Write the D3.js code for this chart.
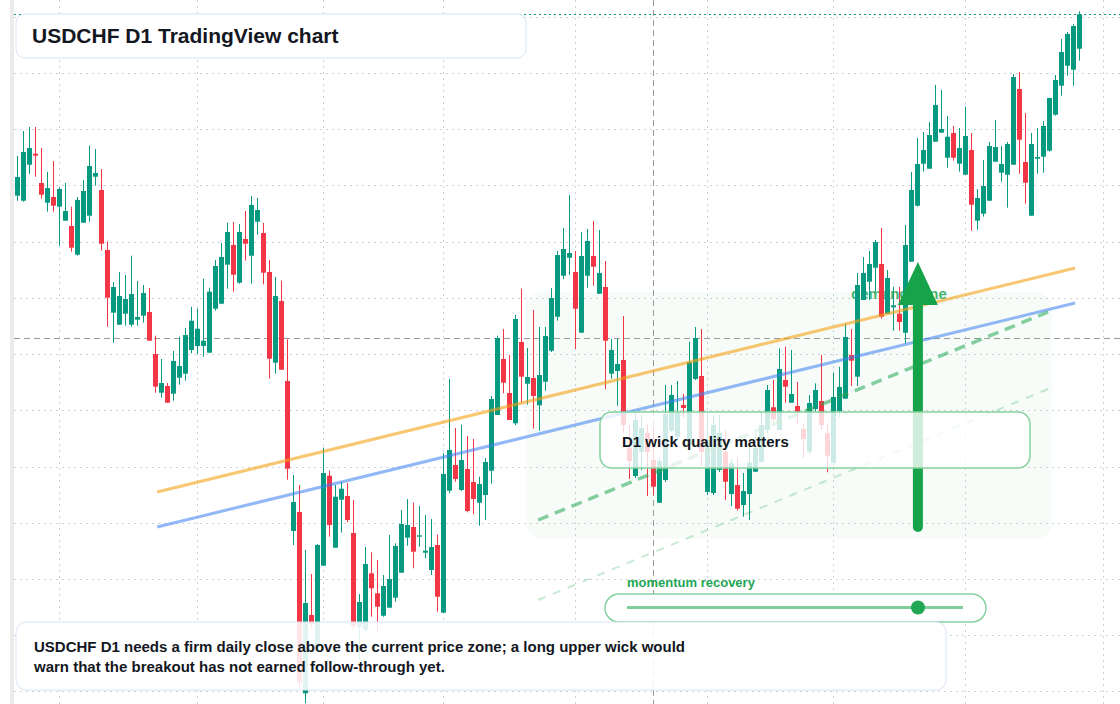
<!DOCTYPE html>
<html lang="en">
<head>
<meta charset="UTF-8">
<title>USDCHF D1 TradingView chart</title>
<script src="https://cdnjs.cloudflare.com/ajax/libs/d3/7.8.5/d3.min.js"></script>
<style>
  body { margin: 0; background: #fff; font-family: "Liberation Sans", Arial, sans-serif; }
  svg { display: block; }
</style>
</head>
<body>
<div id="chart"></div>
<script>
// daily USDCHF candles, oldest first
const openP = [
  0.93043, 0.92993, 0.93353, 0.93463, 0.93170, 0.92973, 0.93030, 0.92933, 0.92793, 0.92740,
  0.92453, 0.92773, 0.92843, 0.93233, 0.93100, 0.92500, 0.91873, 0.91753, 0.91863, 0.91753,
  0.91803, 0.91843, 0.91880, 0.91460, 0.91073, 0.91140, 0.91063, 0.91223, 0.91263, 0.91500,
  0.91540, 0.91540, 0.91473, 0.91913, 0.91963, 0.92353, 0.92550, 0.92173, 0.92610, 0.92443,
  0.92783, 0.92670, 0.92280, 0.91373, 0.91990, 0.91190, 0.89690, 0.89880, 0.88067, 0.88850,
  0.88530, 0.89343, 0.90243, 0.89523, 0.90003, 0.90040, 0.89670, 0.88730, 0.88700, 0.89267,
  0.89067, 0.88843, 0.88923, 0.89023, 0.89273, 0.89623, 0.89730, 0.89633, 0.89473, 0.89300,
  0.89550, 0.88873, 0.90093, 0.90350, 0.90100, 0.90310, 0.90180, 0.89973, 0.90050, 0.90293,
  0.90850, 0.91410, 0.91070, 0.90767, 0.91580, 0.91163, 0.91220, 0.90947, 0.91183, 0.91493,
  0.91833, 0.92243, 0.92423, 0.92280, 0.91673, 0.92243, 0.92440, 0.92063, 0.92130, 0.91263,
  0.91290, 0.91400, 0.90520, 0.90240, 0.90483, 0.90670, 0.90400, 0.89973, 0.90200, 0.90693,
  0.90633, 0.90950, 0.90550, 0.91210, 0.91240, 0.90080, 0.90070, 0.90300, 0.90483, 0.90060,
  0.90150, 0.89950, 0.90060, 0.90283, 0.90383, 0.90700, 0.90927, 0.90700, 0.91200, 0.90973,
  0.90940, 0.90710, 0.90483, 0.90910, 0.90990, 0.90667, 0.90373, 0.90890, 0.91013, 0.91450,
  0.91233, 0.92000, 0.92183, 0.92323, 0.92360, 0.91863, 0.91927, 0.91863, 0.91673, 0.92383,
  0.92943, 0.93363, 0.93313, 0.93583, 0.93673, 0.93423, 0.93670, 0.93363, 0.93253, 0.93500,
  0.92793, 0.92863, 0.92993, 0.93383, 0.93273, 0.93253, 0.93353, 0.94110, 0.93380, 0.92843,
  0.93413, 0.93433, 0.93493, 0.93853, 0.94143, 0.94343, 0.94303, 0.94513
];
const highP = [
  0.93440, 0.93690, 0.93730, 0.93730, 0.93520, 0.93280, 0.93390, 0.93127, 0.93170, 0.92933,
  0.93030, 0.93200, 0.93543, 0.93510, 0.93310, 0.92587, 0.92180, 0.92280, 0.92250, 0.92443,
  0.92190, 0.92150, 0.92120, 0.91643, 0.91410, 0.91170, 0.91490, 0.91633, 0.91720, 0.91933,
  0.91913, 0.92213, 0.92123, 0.92400, 0.92570, 0.92773, 0.92780, 0.92760, 0.92890, 0.93040,
  0.93020, 0.92770, 0.92400, 0.92230, 0.92193, 0.91607, 0.90250, 0.90150, 0.89500, 0.89260,
  0.89560, 0.90523, 0.90293, 0.90150, 0.90180, 0.90170, 0.90000, 0.89060, 0.89530, 0.89477,
  0.89400, 0.89250, 0.89650, 0.89567, 0.89900, 0.90010, 0.89973, 0.89940, 0.89850, 0.89810,
  0.89653, 0.90467, 0.91210, 0.90720, 0.90753, 0.90640, 0.90610, 0.90233, 0.90420, 0.91040,
  0.91643, 0.91710, 0.91450, 0.91850, 0.92113, 0.91520, 0.91900, 0.91730, 0.91730, 0.92120,
  0.92490, 0.92720, 0.93050, 0.92490, 0.92680, 0.92710, 0.92790, 0.92700, 0.92390, 0.91610,
  0.91610, 0.91840, 0.90750, 0.90880, 0.90850, 0.90750, 0.90730, 0.90420, 0.91150, 0.91150,
  0.91190, 0.91060, 0.91583, 0.91730, 0.91710, 0.90870, 0.90850, 0.90850, 0.90700, 0.90410,
  0.90430, 0.90270, 0.90533, 0.90670, 0.90883, 0.91150, 0.91200, 0.91517, 0.91533, 0.91500,
  0.91180, 0.90760, 0.91050, 0.91167, 0.91450, 0.90760, 0.91273, 0.91333, 0.91760, 0.91710,
  0.92270, 0.92430, 0.92490, 0.92600, 0.92720, 0.92300, 0.92133, 0.92133, 0.92750, 0.93280,
  0.93620, 0.93680, 0.93780, 0.94150, 0.94100, 0.93840, 0.93740, 0.93720, 0.93933, 0.93670,
  0.93110, 0.93400, 0.93580, 0.93800, 0.93540, 0.93580, 0.94260, 0.94280, 0.93870, 0.93670,
  0.93720, 0.93790, 0.94023, 0.94250, 0.94610, 0.94680, 0.94760, 0.94887
];
const lowP = [
  0.92993, 0.92983, 0.93260, 0.93233, 0.93013, 0.92883, 0.92883, 0.92543, 0.92793, 0.92483,
  0.92443, 0.92773, 0.92783, 0.93143, 0.92493, 0.91733, 0.91573, 0.91753, 0.91743, 0.91733,
  0.91743, 0.91773, 0.91593, 0.91073, 0.91023, 0.90973, 0.90993, 0.91153, 0.91193, 0.91467,
  0.91460, 0.91433, 0.91473, 0.91893, 0.91960, 0.92113, 0.92083, 0.92163, 0.92393, 0.92163,
  0.92653, 0.92157, 0.91213, 0.91263, 0.91300, 0.90203, 0.89550, 0.88117, 0.87967, 0.88720,
  0.88500, 0.89343, 0.89633, 0.89523, 0.89673, 0.89777, 0.88700, 0.88400, 0.88670, 0.88833,
  0.88667, 0.88833, 0.88923, 0.88983, 0.89273, 0.89543, 0.89317, 0.89533, 0.89417, 0.89250,
  0.88883, 0.88873, 0.90067, 0.90183, 0.90090, 0.89877, 0.89857, 0.89743, 0.89800, 0.90163,
  0.90850, 0.91067, 0.90800, 0.90750, 0.90973, 0.90953, 0.90713, 0.90693, 0.91093, 0.91480,
  0.91793, 0.92210, 0.92250, 0.91510, 0.91673, 0.92123, 0.92143, 0.92060, 0.91110, 0.91213,
  0.90943, 0.90670, 0.90210, 0.90220, 0.90300, 0.90040, 0.90050, 0.89970, 0.90180, 0.90680,
  0.90600, 0.90820, 0.90500, 0.91200, 0.90340, 0.90050, 0.90050, 0.90280, 0.90000, 0.89940,
  0.89893, 0.89833, 0.89800, 0.90280, 0.90370, 0.90667, 0.90783, 0.90700, 0.90973, 0.90973,
  0.90760, 0.90417, 0.90450, 0.90883, 0.90700, 0.90277, 0.90340, 0.90827, 0.91013, 0.91140,
  0.91140, 0.92000, 0.92000, 0.92083, 0.91813, 0.91863, 0.91693, 0.91693, 0.91567, 0.92383,
  0.92933, 0.93283, 0.93313, 0.93583, 0.93673, 0.93323, 0.93393, 0.93283, 0.93253, 0.92693,
  0.92703, 0.92833, 0.92993, 0.93383, 0.93183, 0.92923, 0.93353, 0.93263, 0.92963, 0.92843,
  0.93263, 0.93273, 0.93483, 0.93843, 0.94043, 0.94243, 0.94143, 0.94393
];
const closeP = [
  0.93230, 0.93480, 0.93520, 0.93443, 0.93053, 0.93120, 0.92943, 0.93110, 0.92890, 0.92523,
  0.93000, 0.93090, 0.93340, 0.93270, 0.92563, 0.92023, 0.92130, 0.92040, 0.92010, 0.92060,
  0.91830, 0.92070, 0.91593, 0.91133, 0.91170, 0.90973, 0.91390, 0.91340, 0.91650, 0.91793,
  0.91713, 0.91593, 0.92083, 0.92340, 0.92430, 0.92680, 0.92253, 0.92680, 0.92563, 0.92950,
  0.92900, 0.92273, 0.91413, 0.92040, 0.91303, 0.90313, 0.89980, 0.88173, 0.88970, 0.88760,
  0.89550, 0.90270, 0.89750, 0.90033, 0.90113, 0.89800, 0.88740, 0.88980, 0.89360, 0.89117,
  0.88933, 0.89140, 0.89210, 0.89540, 0.89760, 0.89750, 0.89483, 0.89647, 0.89493, 0.89530,
  0.89033, 0.90260, 0.90500, 0.90210, 0.90400, 0.89890, 0.90010, 0.90160, 0.90380, 0.91010,
  0.91620, 0.91173, 0.90800, 0.91810, 0.91233, 0.91230, 0.91040, 0.91250, 0.91640, 0.92020,
  0.92450, 0.92510, 0.92470, 0.91913, 0.92440, 0.92590, 0.92333, 0.92270, 0.91593, 0.91500,
  0.91360, 0.90750, 0.90390, 0.90800, 0.90720, 0.90480, 0.90133, 0.90390, 0.90860, 0.91050,
  0.90870, 0.90920, 0.91380, 0.91620, 0.90480, 0.90600, 0.90750, 0.90670, 0.90183, 0.90367,
  0.89913, 0.90090, 0.90373, 0.90520, 0.90750, 0.91100, 0.90807, 0.91310, 0.91133, 0.91060,
  0.90883, 0.90610, 0.90970, 0.91100, 0.90750, 0.90443, 0.91030, 0.91130, 0.91630, 0.91393,
  0.92150, 0.92270, 0.92360, 0.92580, 0.91833, 0.92220, 0.91947, 0.91780, 0.92550, 0.93100,
  0.93360, 0.93500, 0.93650, 0.93950, 0.93710, 0.93633, 0.93423, 0.93520, 0.93640, 0.92953,
  0.93020, 0.93140, 0.93540, 0.93530, 0.93360, 0.93560, 0.94230, 0.93603, 0.93173, 0.93560,
  0.93430, 0.93740, 0.94020, 0.94200, 0.94480, 0.94660, 0.94740, 0.94857
];

// first bar of each month (bar index) and horizontal price grid
const monthTicks = [7, 30, 51, 71, 93, 115, 136, 158, 181];
const priceGrid = [0.94831, 0.94269, 0.93707, 0.93145, 0.92583, 0.92021, 0.91459,
                   0.90897, 0.90335, 0.89773, 0.89211, 0.88649, 0.88087];

// drawings
const crosshair = { bar: 106, price: 0.91617 };
const demandZone = { from: 84.8, to: 172.5, top: 0.9208, bottom: 0.8961 };
const trendLines = [
  { from: 23.3, to: 176.3, p0: 0.9008, p1: 0.9232, color: "rgba(245,160,20,0.6)", width: 3, dash: null },
  { from: 23.3, to: 176.3, p0: 0.8973, p1: 0.9197, color: "rgba(59,125,240,0.55)", width: 3, dash: null },
  { from: 86.8, to: 171.8, p0: 0.8980, p1: 0.9188, color: "rgba(34,167,85,0.55)", width: 3.5, dash: "11,7" },
  { from: 86.8, to: 171.8, p0: 0.8900, p1: 0.9111, color: "rgba(34,167,85,0.25)", width: 2, dash: "8,8" }
];
const arrow = { bar: 150.1, fromPrice: 0.8973, toPrice: 0.9238 };
const momentum = 0.866;

const W = 1120, H = 704;
const green = "#089981", red = "#f23645";

const svg = d3.select("#chart").append("svg")
  .attr("width", W).attr("height", H);

const x = d3.scaleLinear().domain([0, 177]).range([17.3, 1079.3]);
const y = d3.scaleLinear().domain([0.95, 0.8796]).range([0, H]);

svg.append("rect").attr("width", W).attr("height", H).attr("fill", "#fff");
svg.append("rect").attr("x", 10).attr("width", 4).attr("height", H).attr("fill", "#ebebeb");

// grid
svg.append("g").selectAll("line").data(priceGrid).enter().append("line")
  .attr("x1", 14).attr("x2", W)
  .attr("y1", d => Math.round(y(d)) + 0.5).attr("y2", d => Math.round(y(d)) + 0.5)
  .attr("stroke", "#cfd3d8").attr("stroke-dasharray", "2,4");
svg.append("g").selectAll("line").data(monthTicks).enter().append("line")
  .attr("x1", d => Math.round(x(d)) + 0.5).attr("x2", d => Math.round(x(d)) + 0.5)
  .attr("y1", 0).attr("y2", H)
  .attr("stroke", "#cfd3d8").attr("stroke-dasharray", "2,4");

// demand zone
svg.append("rect")
  .attr("x", x(demandZone.from)).attr("y", y(demandZone.top))
  .attr("width", x(demandZone.to) - x(demandZone.from))
  .attr("height", y(demandZone.bottom) - y(demandZone.top))
  .attr("rx", 16)
  .attr("fill", "rgba(34,167,85,0.035)");
svg.append("text")
  .attr("x", 851).attr("y", 299)
  .attr("font-size", 15).attr("font-weight", "bold")
  .attr("fill", "rgba(34,167,85,0.85)")
  .text("demand zone");

// crosshair
svg.append("line")
  .attr("x1", 14).attr("x2", W)
  .attr("y1", Math.round(y(crosshair.price)) + 0.5).attr("y2", Math.round(y(crosshair.price)) + 0.5)
  .attr("stroke", "#9a9a9a").attr("stroke-dasharray", "6,4");
svg.append("line")
  .attr("x1", Math.round(x(crosshair.bar)) + 0.5).attr("x2", Math.round(x(crosshair.bar)) + 0.5)
  .attr("y1", 0).attr("y2", H)
  .attr("stroke", "#9a9a9a").attr("stroke-dasharray", "6,4");

// candles
const bars = d3.range(openP.length).map(i => ({
  i, o: openP[i], h: highP[i], l: lowP[i], c: closeP[i]
}));
const candle = svg.append("g").selectAll("g").data(bars).enter().append("g");
candle.append("line")
  .attr("x1", d => Math.round(x(d.i)) + 0.5).attr("x2", d => Math.round(x(d.i)) + 0.5)
  .attr("y1", d => y(d.h)).attr("y2", d => y(d.l))
  .attr("stroke", d => d.c >= d.o ? green : red);
candle.append("rect")
  .attr("x", d => Math.round(x(d.i)) - 2)
  .attr("width", 5)
  .attr("y", d => y(Math.max(d.o, d.c)))
  .attr("height", d => Math.max(1, Math.abs(y(d.o) - y(d.c))))
  .attr("fill", d => d.c >= d.o ? green : red);

// trend lines
svg.append("g").selectAll("line").data(trendLines).enter().append("line")
  .attr("x1", d => x(d.from)).attr("y1", d => y(d.p0))
  .attr("x2", d => x(d.to)).attr("y2", d => y(d.p1))
  .attr("stroke", d => d.color)
  .attr("stroke-width", d => d.width)
  .attr("stroke-dasharray", d => d.dash);

// last price line
const last = closeP[closeP.length - 1];
svg.append("line")
  .attr("x1", 14).attr("x2", W)
  .attr("y1", Math.round(y(last)) + 0.5).attr("y2", Math.round(y(last)) + 0.5)
  .attr("stroke", green).attr("stroke-dasharray", "2,3");

// arrow
const ax = x(arrow.bar), tipY = y(arrow.toPrice);
svg.append("line")
  .attr("x1", ax).attr("x2", ax)
  .attr("y1", y(arrow.fromPrice)).attr("y2", tipY + 40)
  .attr("stroke", "#16a34a").attr("stroke-width", 10).attr("stroke-linecap", "round");
svg.append("path")
  .attr("d", `M${ax},${tipY} L${ax + 20},${tipY + 43} L${ax - 20},${tipY + 43} Z`)
  .attr("fill", "#16a34a");

// wick note
svg.append("rect")
  .attr("x", 600).attr("y", 412).attr("width", 430).attr("height", 56).attr("rx", 12)
  .attr("fill", "rgba(255,255,255,0.8)")
  .attr("stroke", "#86d19f").attr("stroke-width", 1.5);
svg.append("text")
  .attr("x", 622).attr("y", 447)
  .attr("font-size", 15).attr("font-weight", "bold").attr("fill", "#131722")
  .text("D1 wick quality matters");

// momentum gauge
const mx = d3.scaleLinear().domain([0, 1]).range([627, 963]);
svg.append("text")
  .attr("x", 627).attr("y", 587)
  .attr("font-size", 13).attr("font-weight", "bold").attr("fill", "#22a755")
  .text("momentum recovery");
svg.append("rect")
  .attr("x", 605).attr("y", 594).attr("width", 381).attr("height", 28).attr("rx", 14)
  .attr("fill", "#fff").attr("stroke", "#86d19f").attr("stroke-width", 1.5);
svg.append("line")
  .attr("x1", mx(0)).attr("x2", mx(1)).attr("y1", 607.5).attr("y2", 607.5)
  .attr("stroke", "#7fcf98").attr("stroke-width", 3);
svg.append("circle")
  .attr("cx", mx(momentum)).attr("cy", 607.5).attr("r", 7)
  .attr("fill", "#22a755");

// title
svg.append("rect")
  .attr("x", 16).attr("y", 14).attr("width", 510).attr("height", 44).attr("rx", 9)
  .attr("fill", "#fff").attr("stroke", "#d8e4f5");
svg.append("text")
  .attr("x", 32).attr("y", 43)
  .attr("font-size", 21).attr("font-weight", "bold").attr("fill", "#131722")
  .text("USDCHF D1 TradingView chart");

// bottom note
svg.append("rect")
  .attr("x", 16).attr("y", 622).attr("width", 930).attr("height", 68).attr("rx", 10)
  .attr("fill", "rgba(255,255,255,0.88)").attr("stroke", "#d8e4f5");
const note = svg.append("text")
  .attr("font-size", 15).attr("font-weight", "bold").attr("fill", "#131722");
note.append("tspan").attr("x", 34).attr("y", 652)
  .text("USDCHF D1 needs a firm daily close above the current price zone; a long upper wick would");
note.append("tspan").attr("x", 34).attr("y", 672)
  .text("warn that the breakout has not earned follow-through yet.");
</script>
</body>
</html>
